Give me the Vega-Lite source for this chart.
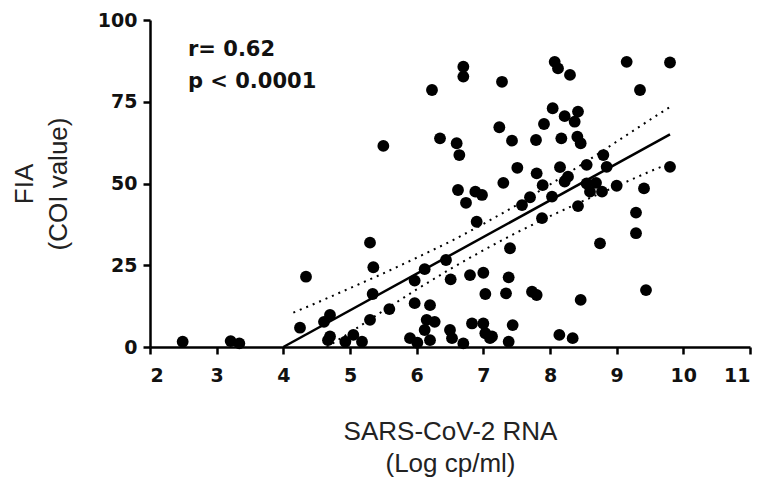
{
  "$schema": "https://vega.github.io/schema/vega-lite/v6.json",
  "width": 600,
  "height": 327,
  "autosize": {"type": "none"},
  "padding": {"left": 150, "top": 20, "right": 10, "bottom": 132},
  "background": "white",
  "config": {
    "view": {"stroke": null},
    "axis": {
      "grid": false,
      "domainColor": "black",
      "domainWidth": 2.5,
      "tickColor": "black",
      "tickWidth": 2.5,
      "tickSize": 7,
      "labelFont": "DejaVu Sans",
      "labelFontWeight": "bold",
      "labelFontSize": 19,
      "labelColor": "#111",
      "titleFont": "Liberation Sans",
      "titleFontWeight": "normal",
      "titleFontSize": 26,
      "titleColor": "#222"
    }
  },
  "datasets": {
    "pts": [
      {"rna": 2.49, "fia": 1.6}, {"rna": 3.21, "fia": 1.8}, {"rna": 3.34, "fia": 1.1},
      {"rna": 4.34, "fia": 21.5}, {"rna": 4.25, "fia": 5.9}, {"rna": 4.70, "fia": 9.8},
      {"rna": 4.61, "fia": 7.7}, {"rna": 4.67, "fia": 2.1}, {"rna": 5.30, "fia": 31.9},
      {"rna": 5.35, "fia": 24.4}, {"rna": 5.34, "fia": 16.2}, {"rna": 5.30, "fia": 8.3},
      {"rna": 5.59, "fia": 11.6}, {"rna": 5.97, "fia": 20.3}, {"rna": 6.12, "fia": 23.8},
      {"rna": 6.44, "fia": 26.6}, {"rna": 6.51, "fia": 20.7}, {"rna": 5.97, "fia": 13.4},
      {"rna": 6.20, "fia": 12.8}, {"rna": 6.90, "fia": 38.3}, {"rna": 6.74, "fia": 44.1},
      {"rna": 6.62, "fia": 48.0}, {"rna": 6.98, "fia": 46.5}, {"rna": 6.88, "fia": 47.5},
      {"rna": 6.80, "fia": 22.0}, {"rna": 7.00, "fia": 22.7}, {"rna": 7.03, "fia": 16.2},
      {"rna": 6.15, "fia": 8.3}, {"rna": 6.27, "fia": 7.7}, {"rna": 6.12, "fia": 5.2},
      {"rna": 5.90, "fia": 2.7}, {"rna": 6.01, "fia": 1.3}, {"rna": 6.20, "fia": 2.1},
      {"rna": 6.50, "fia": 5.2}, {"rna": 6.53, "fia": 2.7}, {"rna": 6.70, "fia": 1.1},
      {"rna": 6.83, "fia": 7.2}, {"rna": 7.00, "fia": 7.2}, {"rna": 7.03, "fia": 4.2},
      {"rna": 7.10, "fia": 2.7}, {"rna": 5.05, "fia": 3.7}, {"rna": 4.93, "fia": 1.6},
      {"rna": 5.18, "fia": 1.6}, {"rna": 4.70, "fia": 3.2}, {"rna": 5.50, "fia": 61.5},
      {"rna": 6.23, "fia": 78.6}, {"rna": 6.70, "fia": 85.7}, {"rna": 6.70, "fia": 82.7},
      {"rna": 7.28, "fia": 81.1}, {"rna": 6.35, "fia": 63.8}, {"rna": 6.60, "fia": 62.3},
      {"rna": 6.64, "fia": 58.7}, {"rna": 7.24, "fia": 67.2}, {"rna": 7.30, "fia": 50.2},
      {"rna": 8.07, "fia": 87.2}, {"rna": 8.12, "fia": 85.2}, {"rna": 8.30, "fia": 83.2},
      {"rna": 9.15, "fia": 87.2}, {"rna": 9.80, "fia": 87.0}, {"rna": 9.35, "fia": 78.6},
      {"rna": 8.04, "fia": 73.0}, {"rna": 8.22, "fia": 70.6}, {"rna": 8.42, "fia": 72.0},
      {"rna": 8.37, "fia": 68.9}, {"rna": 7.91, "fia": 68.2}, {"rna": 7.43, "fia": 63.1},
      {"rna": 7.79, "fia": 63.3}, {"rna": 8.17, "fia": 63.8}, {"rna": 8.41, "fia": 64.3},
      {"rna": 8.46, "fia": 62.3}, {"rna": 8.80, "fia": 58.7}, {"rna": 8.85, "fia": 55.1},
      {"rna": 9.80, "fia": 55.1}, {"rna": 7.51, "fia": 54.8}, {"rna": 7.80, "fia": 53.1},
      {"rna": 8.15, "fia": 55.0}, {"rna": 8.55, "fia": 55.7}, {"rna": 7.89, "fia": 49.5},
      {"rna": 8.27, "fia": 52.1}, {"rna": 8.22, "fia": 50.6}, {"rna": 8.55, "fia": 50.0},
      {"rna": 8.69, "fia": 50.2}, {"rna": 8.60, "fia": 47.5}, {"rna": 8.78, "fia": 47.5},
      {"rna": 9.00, "fia": 49.3}, {"rna": 9.41, "fia": 48.5}, {"rna": 7.70, "fia": 45.8},
      {"rna": 8.03, "fia": 46.0}, {"rna": 7.58, "fia": 43.4}, {"rna": 8.42, "fia": 43.1},
      {"rna": 7.88, "fia": 39.4}, {"rna": 7.40, "fia": 30.2}, {"rna": 8.75, "fia": 31.7},
      {"rna": 9.29, "fia": 41.1}, {"rna": 9.29, "fia": 34.8}, {"rna": 9.44, "fia": 17.4},
      {"rna": 7.38, "fia": 21.3}, {"rna": 7.34, "fia": 16.4}, {"rna": 7.73, "fia": 16.9},
      {"rna": 7.80, "fia": 15.9}, {"rna": 8.46, "fia": 14.4}, {"rna": 7.44, "fia": 6.7},
      {"rna": 7.13, "fia": 3.2}, {"rna": 7.38, "fia": 1.6}, {"rna": 8.14, "fia": 3.7},
      {"rna": 8.34, "fia": 2.7}
    ],
    "fit": [
      {"rna": 4.0, "fia": 0}, {"rna": 9.8, "fia": 65.0}
    ],
    "band": [
      {"side": "upper", "rna": 4.15, "fia": 10.5}, {"side": "upper", "rna": 4.5, "fia": 13.5},
      {"side": "upper", "rna": 5.0, "fia": 18.0}, {"side": "upper", "rna": 5.5, "fia": 22.5},
      {"side": "upper", "rna": 6.0, "fia": 27.3}, {"side": "upper", "rna": 6.5, "fia": 32.2},
      {"side": "upper", "rna": 7.0, "fia": 37.6}, {"side": "upper", "rna": 7.5, "fia": 43.4},
      {"side": "upper", "rna": 8.0, "fia": 49.7}, {"side": "upper", "rna": 8.5, "fia": 56.1},
      {"side": "upper", "rna": 9.0, "fia": 62.8}, {"side": "upper", "rna": 9.5, "fia": 69.5},
      {"side": "upper", "rna": 9.8, "fia": 73.4},
      {"side": "lower", "rna": 4.65, "fia": 0.0}, {"side": "lower", "rna": 5.0, "fia": 4.4},
      {"side": "lower", "rna": 5.5, "fia": 11.1}, {"side": "lower", "rna": 6.0, "fia": 17.6},
      {"side": "lower", "rna": 6.5, "fia": 23.8}, {"side": "lower", "rna": 7.0, "fia": 29.6},
      {"side": "lower", "rna": 7.5, "fia": 35.0}, {"side": "lower", "rna": 8.0, "fia": 40.0},
      {"side": "lower", "rna": 8.5, "fia": 44.7}, {"side": "lower", "rna": 9.0, "fia": 49.2},
      {"side": "lower", "rna": 9.5, "fia": 53.7}, {"side": "lower", "rna": 9.8, "fia": 56.2}
    ],
    "notes": [
      {"rna": 2.57, "fia": 90.8, "label": "r= 0.62"},
      {"rna": 2.57, "fia": 81.1, "label": "p < 0.0001"}
    ]
  },
  "encoding": {
    "x": {
      "field": "rna", "type": "quantitative",
      "scale": {"domain": [2, 11], "nice": false, "zero": false},
      "axis": {"values": [2, 3, 4, 5, 6, 7, 8, 9, 10, 11], "title": ["SARS-CoV-2 RNA", "(Log cp/ml)"], "labelPadding": 12, "titlePadding": 33, "titleLineHeight": 32}
    },
    "y": {
      "field": "fia", "type": "quantitative",
      "scale": {"domain": [0, 100], "nice": false},
      "axis": {"values": [0, 25, 50, 75, 100], "title": ["FIA", "(COI value)"], "labelPadding": 6, "titlePadding": 26, "titleLineHeight": 34}
    }
  },
  "layer": [
    {
      "data": {"name": "band"},
      "mark": {"type": "line", "color": "black", "strokeWidth": 2, "strokeDash": [2, 5]},
      "encoding": {"detail": {"field": "side", "type": "nominal"}}
    },
    {
      "data": {"name": "fit"},
      "mark": {"type": "line", "color": "black", "strokeWidth": 2.5},
      "encoding": {}
    },
    {
      "data": {"name": "pts"},
      "mark": {"type": "circle", "color": "black", "opacity": 1, "size": 140}
    },
    {
      "data": {"name": "notes"},
      "mark": {"type": "text", "align": "left", "baseline": "middle", "font": "DejaVu Sans", "fontWeight": "bold", "fontSize": 21, "color": "#111"},
      "encoding": {"text": {"field": "label", "type": "nominal"}}
    }
  ]
}
